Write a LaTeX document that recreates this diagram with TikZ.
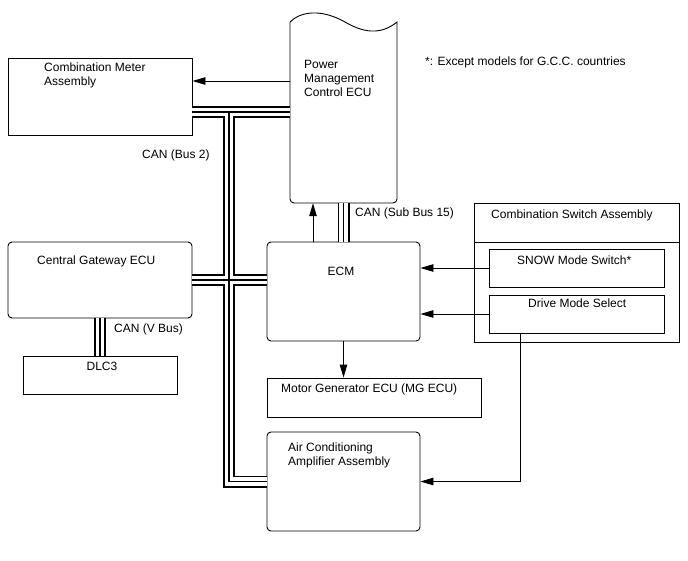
\documentclass[tikz,border=0pt]{standalone}
\usepackage{fontspec}
\setmainfont{Liberation Sans}
\usetikzlibrary{arrows.meta}
\begin{document}
\begin{tikzpicture}[x=1pt,y=-1pt,
  box/.style={draw, line width=0.9pt, inner sep=0pt},
  rbox/.style={box, rounded corners=4pt},
  lbl/.style={inner sep=0pt, font=\fontsize{12}{14}\selectfont, align=left},
  arr/.style={line width=0.9pt, -{Triangle[length=13pt,width=7.5pt]}},
  busA/.style={line width=12pt, line join=miter},
  busB/.style={line width=8.4pt, white, line join=miter},
  busC/.style={line width=1.1pt, line join=miter}]
\useasboundingbox (0,0) rectangle (688,560);

% boxes
\node[box, minimum width=184pt, minimum height=77pt] (meter) at (100,96.5) {};
\node[inner sep=0pt, minimum width=107pt, minimum height=181pt] (pmc) at (343.5,112.5) {};
\draw[line width=0.9pt] (290,22) .. controls (300,12) and (320,8) .. (345,22)
  .. controls (362,32) and (380,36) .. (397,22)
  [rounded corners=4pt] -- (397,203) -- (290,203) -- (290,22);
\node[rbox, minimum width=184pt, minimum height=76pt] (gw) at (100,280) {};
\node[box, minimum width=154pt, minimum height=38pt] (dlc) at (100,375) {};
\node[rbox, minimum width=153pt, minimum height=99pt] (ecm) at (343.5,291.5) {};
\node[box, minimum width=214pt, minimum height=39pt] (mg) at (374,397.5) {};
\node[rbox, minimum width=153pt, minimum height=99pt] (ac) at (343.5,481.5) {};
\node[box, minimum width=205pt, minimum height=139pt] (csa) at (576.5,272.5) {};
\draw[line width=0.9pt] (csa.west |- 0,242) -- (csa.east |- 0,242);
\node[box, minimum width=175pt, minimum height=38pt] (snow) at (576.5,268) {};
\node[box, minimum width=175pt, minimum height=38pt] (dms) at (576.5,314) {};

% texts
\node[lbl, anchor=north west] (tmeter) at (44,63) {Combination Meter\\Assembly};
\node[lbl, anchor=north west] (tpmc) at (304,60) {Power\\Management\\Control ECU};
\node[lbl, anchor=north west] (tnote) at (425,57) {*: Except models for G.C.C. countries};
\node[lbl, anchor=north west] (tbus2) at (142,150) {CAN (Bus 2)};
\node[lbl, anchor=north west] (tgw) at (37,256) {Central Gateway ECU};
\node[lbl, anchor=north west] (tvbus) at (114,324) {CAN (V Bus)};
\node[lbl, anchor=north] (tdlc) at (102,361.5) {DLC3};
\node[lbl, anchor=north] (tecm) at (341,267) {ECM};
\node[lbl, anchor=north west] (tsub) at (355,207.5) {CAN (Sub Bus 15)};
\node[lbl, anchor=north west] (tcsa) at (491,210) {Combination Switch Assembly};
\node[lbl, anchor=north west] (tsnow) at (517,255.5) {SNOW Mode Switch*};
\node[lbl, anchor=north west] (tdms) at (528,299) {Drive Mode Select};
\node[lbl, anchor=north west] (tmg) at (281,384) {Motor Generator ECU (MG ECU)};
\node[lbl, anchor=north west] (tac) at (288,442.5) {Air Conditioning\\Amplifier Assembly};

% CAN buses
\coordinate (j1) at (229,112);
\foreach \s in {busA,busB,busC}{
  \draw[\s] (meter.east |- j1) -- (pmc.west |- j1);
  \draw[\s] (j1) -- (j1 |- ac.west) -- (ac.west);
  \draw[\s] (gw.east) -- (gw.east -| ecm.west);
  \draw[\s] (gw.south) -- (gw.south |- dlc.north);
  \draw[\s] (ecm.north) -- (ecm.north |- pmc.south);
}

% arrows
\draw[arr] (pmc.west |- 0,81) -- (meter.east |- 0,81);
\draw[arr] ([xshift=-30.5pt]ecm.north) -- ([xshift=-30.5pt]ecm.north |- pmc.south);
\draw[arr] (snow.west) -- (snow.west -| ecm.east);
\draw[arr] (dms.west) -- (dms.west -| ecm.east);
\draw[arr] (ecm.south) -- (ecm.south |- mg.north);
\draw[arr] ([xshift=-56.5pt]dms.south) |- (ac.east);
\end{tikzpicture}
\end{document}
